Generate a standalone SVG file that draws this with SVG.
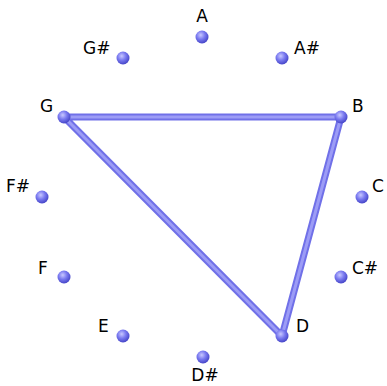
<svg xmlns="http://www.w3.org/2000/svg" width="387" height="386" viewBox="0 0 387 386">
<defs>
<radialGradient id="ball" cx="0.4" cy="0.35" r="0.65">
<stop offset="0" stop-color="#c8c8ff"/>
<stop offset="0.5" stop-color="#7a7af0"/>
<stop offset="1" stop-color="#4646c8"/>
</radialGradient>
<style>
.lbl{font-family:"DejaVu Sans",sans-serif;font-size:17px;fill:#000}
.edge{fill:none;stroke:#7070e8;stroke-width:7;stroke-linejoin:round;stroke-linecap:round}
.core{fill:none;stroke:#9c9cf6;stroke-width:3;stroke-linejoin:round;stroke-linecap:round}
.pt{fill:url(#ball)}
</style>
</defs>
<rect width="387" height="386" fill="#fff"/>
<g id="connectors">
<polygon class="edge" points="64,117 341,117 282,336"/>
<polygon class="core" points="64,117 341,117 282,336"/>
</g>
<g id="A"><circle class="pt" cx="202" cy="37" r="6.5"/><text class="lbl" x="202" y="22" text-anchor="middle">A</text></g>
<g id="As"><circle class="pt" cx="282" cy="58" r="6.5"/><text class="lbl" x="294" y="54">A#</text></g>
<g id="B"><circle class="pt" cx="341" cy="117" r="6.5"/><text class="lbl" x="352" y="112">B</text></g>
<g id="C"><circle class="pt" cx="362" cy="197" r="6.5"/><text class="lbl" x="372" y="192">C</text></g>
<g id="Cs"><circle class="pt" cx="341" cy="277" r="6.5"/><text class="lbl" x="352" y="274">C#</text></g>
<g id="D"><circle class="pt" cx="282" cy="336" r="6.5"/><text class="lbl" x="296" y="332">D</text></g>
<g id="Ds"><circle class="pt" cx="203" cy="357" r="6.5"/><text class="lbl" x="205" y="381" text-anchor="middle">D#</text></g>
<g id="E"><circle class="pt" cx="123" cy="336" r="6.5"/><text class="lbl" x="98" y="332">E</text></g>
<g id="F"><circle class="pt" cx="64" cy="277" r="6.5"/><text class="lbl" x="38" y="274">F</text></g>
<g id="Fs"><circle class="pt" cx="42" cy="197" r="6.5"/><text class="lbl" x="6" y="192">F#</text></g>
<g id="G"><circle class="pt" cx="64" cy="117" r="6.5"/><text class="lbl" x="40" y="112">G</text></g>
<g id="Gs"><circle class="pt" cx="123" cy="58" r="6.5"/><text class="lbl" x="83" y="54">G#</text></g>
</svg>
